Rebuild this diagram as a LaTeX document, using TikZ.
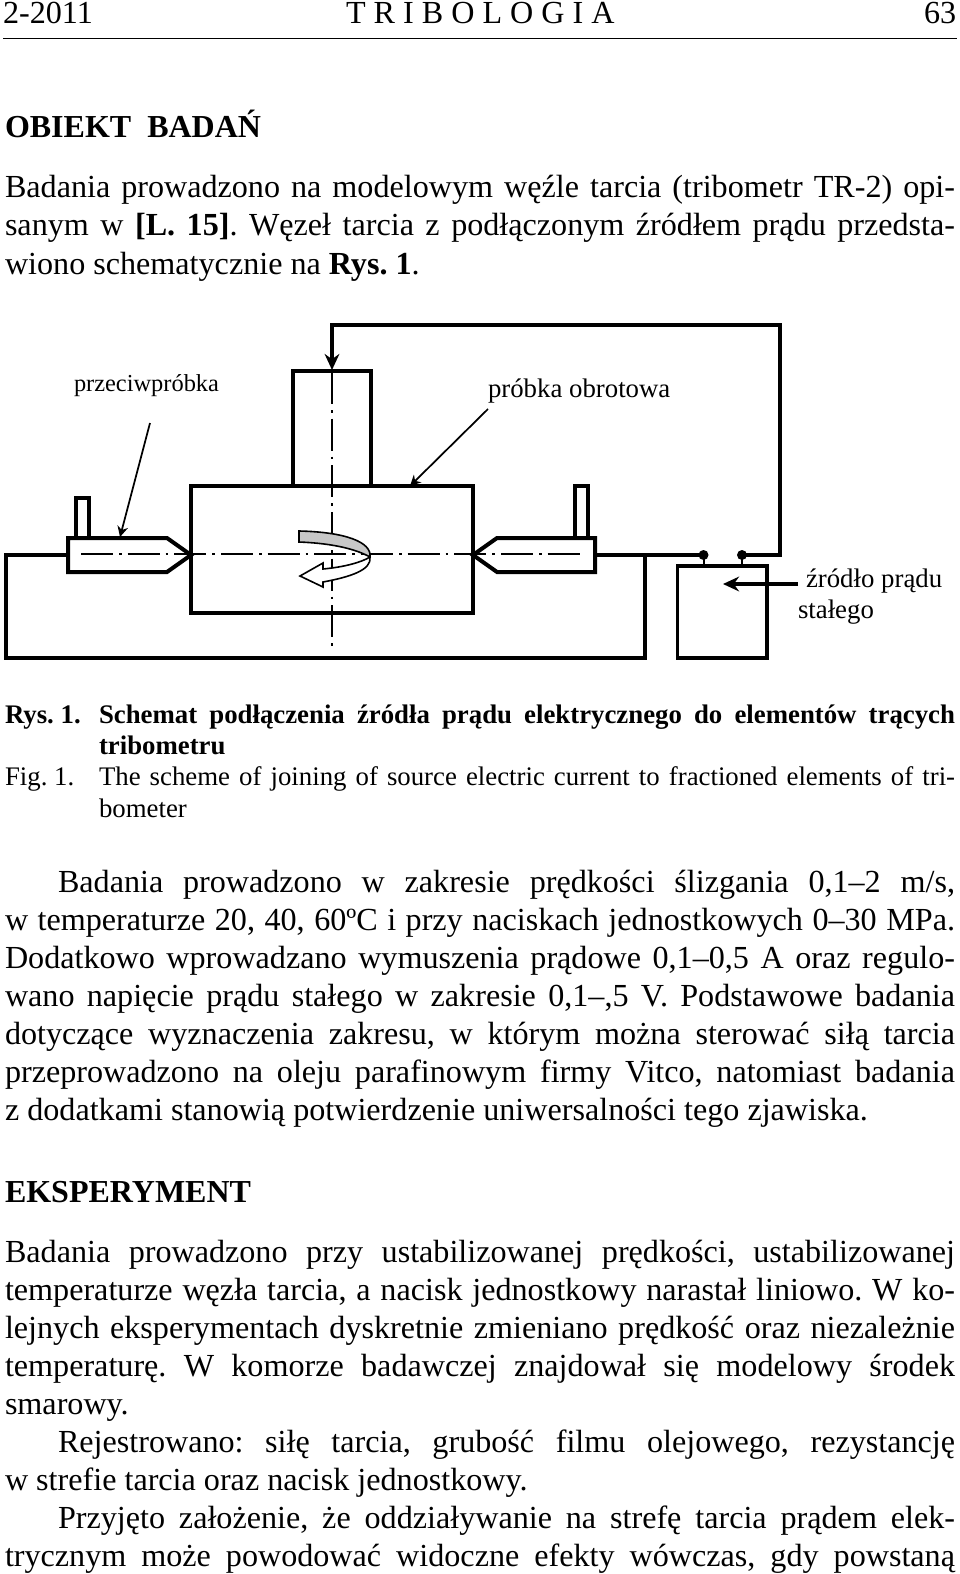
\documentclass[tikz,border=0pt]{standalone}
\usepackage{fontspec}
\setmainfont{Liberation Serif}
\usetikzlibrary{arrows.meta}
\newdimen\pxu \pxu=0.75pt
\newcommand{\jl}[1]{\makebox[950\pxu][s]{#1}}
\newcommand{\cl}[1]{\makebox[856\pxu][s]{#1}}
\newcommand{\il}[1]{\makebox[897\pxu][s]{#1}}
\tikzset{
 x=0.75pt,y=-0.75pt,
 txt/.style={anchor=base west,inner sep=0,outer sep=0,font=\fontsize{24.1pt}{27pt}\selectfont},
 head/.style={txt,font=\fontsize{24pt}{27pt}\selectfont\bfseries},
 captxt/.style={txt,font=\fontsize{20.1pt}{23pt}\selectfont},
 capb/.style={txt,font=\fontsize{20.1pt}{23pt}\selectfont\bfseries},
 lab/.style={anchor=base west,inner sep=0,outer sep=0,font=\fontsize{20.1pt}{23pt}\selectfont},
 labs/.style={lab,font=\fontsize{18.3pt}{23pt}\selectfont},
 thick1/.style={line width=3pt,line join=miter},
 wire/.style={line width=2.3pt,line join=miter},
 axis/.style={line width=1.5pt,dash pattern=on 24pt off 4.5pt on 2pt off 4.5pt},
 pointer/.style={line width=1.3pt,-{Stealth[length=8pt,width=8pt]}},
 bigtip/.style={-{Stealth[length=12pt,width=11pt]}},
}
\begin{document}
\frenchspacing
\begin{tikzpicture}
\useasboundingbox (0,0) rectangle (960,1574);
\fill[white] (0,0) rectangle (960,1574);
% header
\node[txt] (h1) at (3,23) {2-2011};
\node[txt] (h2) at (346,23) {T R I B O L O G I A};
\node[txt] (h3) at (924,23) {63};
\draw[line width=1pt] (3,38.5) -- (957,38.5);
\node[head] (t1) at (5,137) {OBIEKT\ \ BADAŃ};
\node[txt] (l1) at (5,197) {\jl{Badania prowadzono na modelowym węźle tarcia (tribometr TR-2) opi-}};
\node[txt] (l2) at (5,235) {\jl{sanym w \textbf{[L. 15]}. Węzeł tarcia z podłączonym źródłem prądu przedsta-}};
\node[txt] (l3) at (5,274) {wiono schematycznie na \textbf{Rys. 1}.};
% diagram
\draw[thick1] (191,486) rectangle (473,613);
\draw[thick1] (293,486) -- (293,371) -- (371,371) -- (371,486);
\draw[thick1] (68,538) -- (167,538) -- (191,555) -- (167,572) -- (68,572) -- cycle;
\draw[thick1] (595,538) -- (497,538) -- (473,555) -- (497,572) -- (595,572) -- cycle;
\draw[thick1] (76,538) -- (76,498) -- (89,498) -- (89,538);
\draw[thick1] (575,538) -- (575,486) -- (588,486) -- (588,538);
\draw[axis] (81,554) -- (582,554);
\draw[axis] (332,372) -- (332,646);
% wires
\coordinate (c1) at (703.5,555);
\coordinate (c2) at (742,555);
\draw[wire] (68,555) -- (6,555) -- (6,658) -- (645,658) -- (645,555);
\draw[wire] (595,555) -- (c1);
\draw[wire,bigtip] (c2) -- (780,555) -- (780,325) -- (332,325) -- (332,370);
\fill (c1) circle (5);
\fill (c2) circle (5);
\draw[line width=1.5pt] (c1) -- (703.5,566);
\draw[line width=1.5pt] (c2) -- (742,566);
\draw[wire] (677.5,566) rectangle (767,658);
\draw[wire,bigtip] (798,584) -- (723,584);
\node[lab] (n3) at (806,587) {źródło prądu};
\node[lab] (n4) at (798,618) {stałego};
\node[labs] (n1) at (74,391) {przeciwpróbka};
\node[lab] (n2) at (488,397) {próbka obrotowa};
\draw[pointer] (150,423) -- (120,537);
\draw[pointer] (488,409) -- (410,486);
% rotation arrow
\draw[line width=1.2pt,fill=white] (370,557) .. controls (372,570) and (350,577) .. (323,582) -- (323,587) -- (300,576) -- (323,563) -- (323,569) .. controls (345,567) and (362,562) .. (370,557) -- cycle;
\draw[line width=1.2pt,fill=black!22] (299,531) -- (299,542) .. controls (325,543) and (352,547) .. (370,557) .. controls (372,542) and (345,532) .. (299,531) -- cycle;
% caption
\node[capb] (c0) at (5,723) {Rys. 1.};
\node[capb] (c1a) at (99,723) {\cl{Schemat podłączenia źródła prądu elektrycznego do elementów trących}};
\node[capb] (c1b) at (99,754) {tribometru};
\node[captxt] (c2a) at (5,785) {Fig. 1.};
\node[captxt] (c2b) at (99,785) {\cl{The scheme of joining of source electric current to fractioned elements of tri-}};
\node[captxt] (c2c) at (99,817) {bometer};
% body
\node[txt] (b1) at (58,892) {\il{Badania prowadzono w zakresie prędkości ślizgania 0,1–2 m/s,}};
\node[txt] (b2) at (5,930) {\jl{w temperaturze 20, 40, 60ºC i przy naciskach jednostkowych 0–30 MPa.}};
\node[txt] (b3) at (5,968) {\jl{Dodatkowo wprowadzano wymuszenia prądowe 0,1–0,5 A oraz regulo-}};
\node[txt] (b4) at (5,1006) {\jl{wano napięcie prądu stałego w zakresie 0,1–,5 V. Podstawowe badania}};
\node[txt] (b5) at (5,1044) {\jl{dotyczące wyznaczenia zakresu, w którym można sterować siłą tarcia}};
\node[txt] (b6) at (5,1082) {\jl{przeprowadzono na oleju parafinowym firmy Vitco, natomiast badania}};
\node[txt] (b7) at (5,1120) {z dodatkami stanowią potwierdzenie uniwersalności tego zjawiska.};
\node[head] (t2) at (5,1202) {EKSPERYMENT};
\node[txt] (d1) at (5,1262) {\jl{Badania prowadzono przy ustabilizowanej prędkości, ustabilizowanej}};
\node[txt] (d2) at (5,1300) {\jl{temperaturze węzła tarcia, a nacisk jednostkowy narastał liniowo. W ko-}};
\node[txt] (d3) at (5,1338) {\jl{lejnych eksperymentach dyskretnie zmieniano prędkość oraz niezależnie}};
\node[txt] (d4) at (5,1376) {\jl{temperaturę. W komorze badawczej znajdował się modelowy środek}};
\node[txt] (d5) at (5,1414) {smarowy.};
\node[txt] (d6) at (58,1452) {\il{Rejestrowano: siłę tarcia, grubość filmu olejowego, rezystancję}};
\node[txt] (d7) at (5,1490) {w strefie tarcia oraz nacisk jednostkowy.};
\node[txt] (d8) at (58,1528) {\il{Przyjęto założenie, że oddziaływanie na strefę tarcia prądem elek-}};
\node[txt] (d9) at (5,1566) {\jl{trycznym może powodować widoczne efekty wówczas, gdy powstaną}};
\end{tikzpicture}
\end{document}
